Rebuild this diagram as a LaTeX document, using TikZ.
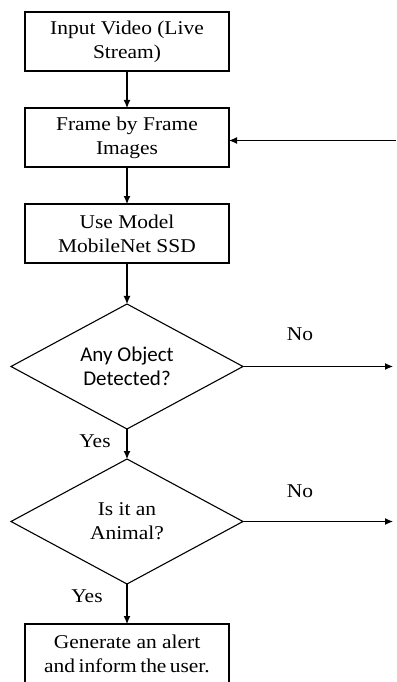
\documentclass[tikz,border=0pt]{standalone}
\usepackage{fontspec}
\setmainfont[FakeStretch=1.1]{Liberation Serif}
\newfontfamily\qfont{Carlito}
\usetikzlibrary{positioning,shapes.geometric,arrows.meta}

\begin{document}
\begin{tikzpicture}[x=1pt,y=1pt,
  line width=1.1pt,
  node distance=37pt,
  stepbox/.style={draw,rectangle,minimum width=204pt,minimum height=59pt,
    align=center,inner sep=2pt,outer sep=0pt},
  query/.style={draw,diamond,aspect=1.86,minimum width=232pt,minimum height=125pt,
    align=center,inner sep=0pt,outer sep=0pt},
  flow/.style={-{Latex[length=8pt,width=7pt]}}]
\useasboundingbox (0,0) rectangle (396,-682);
\fontsize{19.5}{24}\selectfont
\node[stepbox] (in-video) at (127,-41.5) {Input Video (Live\\Stream)};
\node[stepbox] (frames) [below=of in-video] {Frame by Frame\\Images};
\node[stepbox] (model) [below=of frames] {Use Model\\MobileNet SSD};
\node[query] (obj-q) [below=41pt of model] {\qfont\fontsize{21}{25}\selectfont Any Object\\\qfont\fontsize{21}{25}\selectfont Detected?};
\node[query] (animal-q) [below=30pt of obj-q] {Is it an\\Animal?};
\node[stepbox] (alert) [below=40pt of animal-q] {Generate an alert\\and\hspace{-2pt} inform\hspace{-2pt} the\hspace{-2pt} user.};
% loose ends on the right
\coordinate (back-in) at ([xshift=167pt,yshift=-3pt]frames.east);
\coordinate (no-obj) at ([xshift=150pt]obj-q.east);
\coordinate (no-animal) at ([xshift=150pt]animal-q.east);
% labels
\node (no1) at ([xshift=57pt,yshift=32pt]obj-q.east) {No};
\node (yes1) at ([xshift=-32pt,yshift=-12pt]obj-q.south) {Yes};
\node (no2) at ([xshift=57pt,yshift=30pt]animal-q.east) {No};
\node (yes2) at ([xshift=-40pt,yshift=-12pt]animal-q.south) {Yes};
% connectors
\draw[flow] (in-video) -- (frames);
\draw[flow] (frames) -- (model);
\draw[flow] (model) -- (obj-q);
\draw[flow] (obj-q) -- (animal-q);
\draw[flow] (animal-q) -- (alert);
\draw[flow] (back-in) -- (back-in -| frames.east);
\draw[flow] (obj-q.east) -- (no-obj);
\draw[flow] (animal-q.east) -- (no-animal);
\end{tikzpicture}
\end{document}
